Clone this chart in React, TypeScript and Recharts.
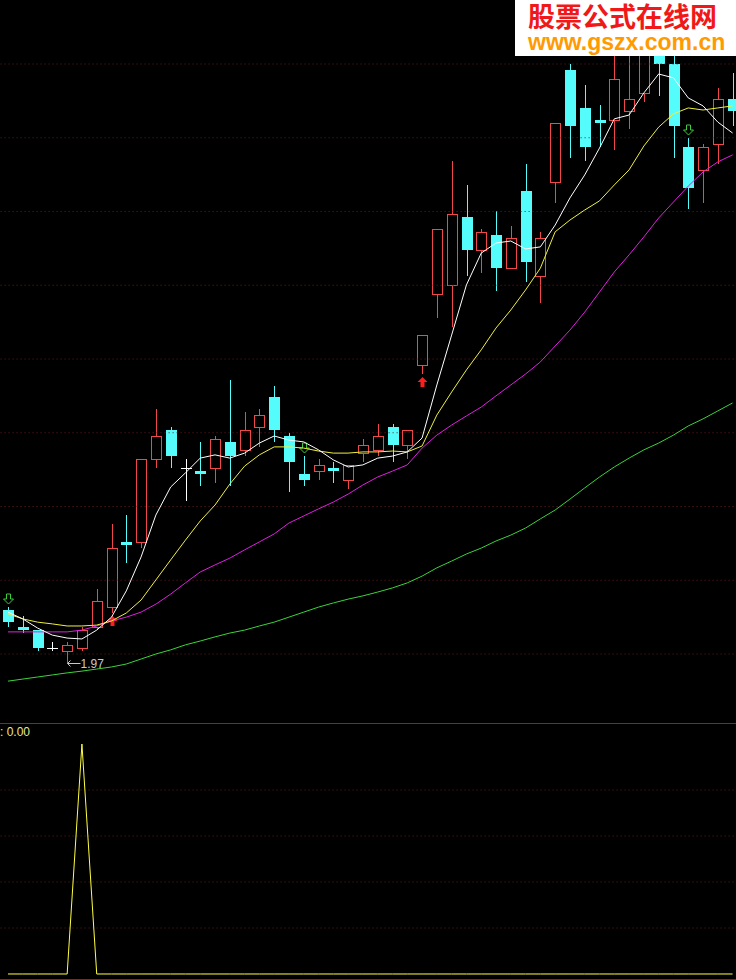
import { ComposedChart, Bar, Line, XAxis, YAxis, ReferenceLine } from 'recharts';

// daily prices
const opens = [2.15, 2.09, 2.08, 2.02, 2.01, 2.02, 2.09, 2.16, 2.38, 2.38, 2.66, 2.76, 2.63, 2.62, 2.63, 2.72, 2.69, 2.77, 2.87, 2.74, 2.61, 2.62, 2.63, 2.59, 2.68, 2.69, 2.77, 2.71, 2.98, 3.22, 3.25, 3.48, 3.37, 3.42, 3.31, 3.57, 3.28, 3.6, 3.98, 3.85, 3.81, 3.81, 3.84, 3.9, 4.05, 4.0, 3.72, 3.64, 3.73, 3.88];
const highs = [2.16, 2.13, 2.08, 2.04, 2.04, 2.09, 2.22, 2.44, 2.47, 2.66, 2.83, 2.77, 2.66, 2.72, 2.74, 2.93, 2.82, 2.83, 2.91, 2.75, 2.67, 2.66, 2.65, 2.64, 2.73, 2.78, 2.78, 2.76, 3.08, 3.44, 3.67, 3.59, 3.44, 3.5, 3.45, 3.66, 3.43, 3.8, 4.0, 3.93, 3.86, 4.08, 4.1, 4.12, 4.15, 4.04, 3.75, 3.73, 3.92, 3.97];
const lows = [2.09, 2.07, 2.01, 2.01, 1.97, 2.01, 2.08, 2.14, 2.31, 2.36, 2.63, 2.63, 2.52, 2.57, 2.58, 2.57, 2.67, 2.7, 2.72, 2.55, 2.57, 2.59, 2.58, 2.56, 2.65, 2.67, 2.65, 2.66, 2.95, 3.14, 3.11, 3.28, 3.29, 3.23, 3.31, 3.26, 3.19, 3.53, 3.68, 3.67, 3.72, 3.71, 3.78, 3.87, 3.89, 3.68, 3.51, 3.53, 3.66, 3.79];
const closes = [2.11, 2.08, 2.02, 2.02, 2.03, 2.08, 2.18, 2.36, 2.37, 2.66, 2.74, 2.67, 2.63, 2.61, 2.73, 2.67, 2.76, 2.81, 2.76, 2.65, 2.59, 2.64, 2.62, 2.64, 2.71, 2.74, 2.71, 2.76, 3.08, 3.44, 3.49, 3.37, 3.43, 3.31, 3.41, 3.33, 3.41, 3.8, 3.79, 3.72, 3.8, 3.95, 3.88, 4.06, 4.0, 3.79, 3.58, 3.72, 3.88, 3.84];

// moving averages
const ma5 = [2.142, 2.119, 2.088, 2.064, 2.054, 2.051, 2.081, 2.125, 2.214, 2.329, 2.471, 2.566, 2.614, 2.664, 2.675, 2.664, 2.681, 2.715, 2.739, 2.725, 2.719, 2.692, 2.658, 2.634, 2.641, 2.664, 2.671, 2.685, 2.732, 2.912, 3.081, 3.251, 3.359, 3.393, 3.4, 3.373, 3.38, 3.454, 3.546, 3.624, 3.715, 3.814, 3.827, 3.902, 3.966, 3.953, 3.885, 3.858, 3.803, 3.766];
const ma10 = [2.136, 2.119, 2.108, 2.102, 2.095, 2.095, 2.098, 2.112, 2.139, 2.183, 2.251, 2.319, 2.386, 2.451, 2.505, 2.576, 2.637, 2.675, 2.702, 2.702, 2.698, 2.688, 2.681, 2.681, 2.685, 2.685, 2.688, 2.685, 2.705, 2.81, 2.888, 2.963, 3.031, 3.105, 3.166, 3.234, 3.308, 3.431, 3.471, 3.505, 3.536, 3.59, 3.641, 3.722, 3.786, 3.831, 3.851, 3.844, 3.851, 3.858];
const ma20 = [2.075, 2.075, 2.075, 2.075, 2.075, 2.081, 2.095, 2.112, 2.125, 2.142, 2.169, 2.203, 2.241, 2.278, 2.302, 2.325, 2.353, 2.38, 2.407, 2.444, 2.468, 2.492, 2.515, 2.542, 2.573, 2.6, 2.62, 2.641, 2.698, 2.742, 2.776, 2.807, 2.837, 2.875, 2.912, 2.949, 2.99, 3.044, 3.098, 3.159, 3.227, 3.295, 3.353, 3.414, 3.478, 3.532, 3.586, 3.634, 3.668, 3.692];
const ma60 = [1.908, 1.915, 1.922, 1.929, 1.936, 1.942, 1.949, 1.956, 1.966, 1.983, 2.0, 2.014, 2.031, 2.044, 2.058, 2.071, 2.081, 2.095, 2.108, 2.125, 2.142, 2.159, 2.173, 2.186, 2.197, 2.21, 2.224, 2.241, 2.264, 2.292, 2.315, 2.339, 2.359, 2.383, 2.403, 2.427, 2.458, 2.488, 2.525, 2.563, 2.6, 2.634, 2.664, 2.692, 2.715, 2.742, 2.773, 2.797, 2.824, 2.851];

// indicator panel
const signal = [0, 0, 0, 0, 0, 1, 0, 0, 0, 0, 0, 0, 0, 0, 0, 0, 0, 0, 0, 0, 0, 0, 0, 0, 0, 0, 0, 0, 0, 0, 0, 0, 0, 0, 0, 0, 0, 0, 0, 0, 0, 0, 0, 0, 0, 0, 0, 0, 0, 0];

const upArrows = [7, 28];
const downArrows = [0, 20, 46];

const mainGrid = [2, 2.25, 2.5, 2.75, 3, 3.25, 3.5, 3.75, 4];
const subGrid = [0.2, 0.4, 0.6, 0.8];

const lowest = Math.min(...lows);
const lowestIdx = lows.indexOf(lowest);

const rows = opens.map((open, i) => ({
  i,
  open,
  high: highs[i],
  low: lows[i],
  close: closes[i],
  ma5: ma5[i],
  ma10: ma10[i],
  ma20: ma20[i],
  ma60: ma60[i],
  sig: signal[i],
  up: upArrows.includes(i),
  down: downArrows.includes(i),
  lowMark: i === lowestIdx,
}));

const RED = '#f04848';
const CYAN = '#54fcfc';
const GRID = '#6e1a1a';
const FRAME = '#9a1c1c';

function Candle(props: any) {
  const { x, y, width, height, payload } = props;
  if (!payload) return null;
  const { open, close, high, low } = payload;
  const top = Math.min(y, y + height);
  const h = Math.abs(height);
  const py = (v: number) => top + ((high - v) / (high - low)) * h;
  const cx = Math.round(x + width / 2) + 0.5;
  const yH = Math.round(py(high));
  const yL = Math.round(py(low));
  const yO = Math.round(py(open));
  const yC = Math.round(py(close));
  const parts: any[] = [];

  if (close > open) {
    parts.push(<line key="w1" x1={cx} x2={cx} y1={yH} y2={yC} stroke={RED} />);
    parts.push(<line key="w2" x1={cx} x2={cx} y1={yO} y2={yL} stroke={RED} />);
    parts.push(
      <rect key="b" x={cx - 5} y={yC + 0.5} width={10} height={Math.max(yO - yC, 1)} fill="#000" stroke={RED} />
    );
  } else if (close < open) {
    parts.push(<line key="w" x1={cx} x2={cx} y1={yH} y2={yL} stroke={CYAN} />);
    parts.push(<rect key="b" x={cx - 5.5} y={yO} width={11} height={Math.max(yC - yO, 2)} fill={CYAN} />);
  } else {
    parts.push(<line key="w" x1={cx} x2={cx} y1={yH} y2={yL} stroke="#fff" />);
    parts.push(<line key="b" x1={cx - 5.5} x2={cx + 5.5} y1={yO + 0.5} y2={yO + 0.5} stroke="#fff" />);
  }

  if (payload.down) {
    const t = yH - 2;
    parts.push(
      <path
        key="da"
        d={`M${cx - 2},${t - 11} L${cx + 2},${t - 11} L${cx + 2},${t - 6} L${cx + 5},${t - 6} L${cx},${t - 1} L${cx - 5},${t - 6} L${cx - 2},${t - 6} Z`}
        fill="none"
        stroke="#3ccc3c"
      />
    );
  }
  if (payload.up) {
    const t = yL + 3;
    parts.push(
      <path
        key="ua"
        d={`M${cx},${t} L${cx + 5},${t + 5} L${cx + 2},${t + 5} L${cx + 2},${t + 10} L${cx - 2},${t + 10} L${cx - 2},${t + 5} L${cx - 5},${t + 5} Z`}
        fill="#ff1e1e"
      />
    );
  }
  if (payload.lowMark) {
    const ly = yL + 0.5;
    parts.push(
      <g key="lm" stroke="#c8c8c8">
        <line x1={cx} x2={cx + 13} y1={ly} y2={ly} />
        <line x1={cx} x2={cx + 3} y1={ly} y2={ly - 3} />
        <line x1={cx} x2={cx + 3} y1={ly} y2={ly + 3} />
      </g>
    );
    parts.push(
      <text key="lt" x={cx + 13} y={ly + 4.5} fill="#c8c8c8" fontSize={12} fontFamily="Liberation Sans, Arial, sans-serif">
        {low.toFixed(2)}
      </text>
    );
  }
  return <g>{parts}</g>;
}

export default function App() {
  return (
    <div
      style={{
        position: 'fixed',
        left: 0,
        top: 0,
        width: 736,
        height: 980,
        background: '#000',
        overflow: 'hidden',
      }}
    >
      <div style={{ position: 'absolute', left: 0, top: 0 }}>
        <ComposedChart width={740} height={722} data={rows} margin={{ top: 0, right: 0, bottom: 0, left: 0.6 }}>
          <XAxis dataKey="i" hide scale="band" />
          <YAxis hide domain={[1.7695, 4.2169]} allowDataOverflow />
          {mainGrid.map((v) => (
            <ReferenceLine key={v} y={v} stroke={GRID} strokeDasharray="1 3" />
          ))}
          <Bar dataKey={(d: any) => [d.low, d.high]} shape={<Candle />} isAnimationActive={false} />
          <Line dataKey="ma60" stroke="#3cd23c" dot={false} isAnimationActive={false} />
          <Line dataKey="ma20" stroke="#e020e0" dot={false} isAnimationActive={false} />
          <Line dataKey="ma10" stroke="#f0f040" dot={false} isAnimationActive={false} />
          <Line dataKey="ma5" stroke="#ffffff" dot={false} isAnimationActive={false} />
        </ComposedChart>
      </div>

      <div style={{ position: 'absolute', left: 0, top: 723, width: 736, height: 1, background: FRAME }} />

      <div style={{ position: 'absolute', left: 0, top: 722 }}>
        <ComposedChart width={740} height={258} data={rows} margin={{ top: 0, right: 0, bottom: 0, left: 0.6 }}>
          <XAxis dataKey="i" hide scale="band" />
          <YAxis hide domain={[-0.0261, 1.0957]} allowDataOverflow />
          {subGrid.map((v) => (
            <ReferenceLine key={v} y={v} stroke={GRID} strokeDasharray="1 3" />
          ))}
          <Line dataKey="sig" stroke="#ffff40" dot={false} isAnimationActive={false} />
        </ComposedChart>
      </div>

      <div style={{ position: 'absolute', left: 0, top: 979, width: 736, height: 1, background: FRAME }} />

      <div
        style={{
          position: 'absolute',
          left: 0,
          top: 725,
          color: '#e8e890',
          fontSize: 12,
          fontFamily: 'Liberation Sans, Arial, sans-serif',
          whiteSpace: 'pre',
        }}
      >
        {': 0.00'}
      </div>

      <div
        style={{
          position: 'absolute',
          left: 515,
          top: 0,
          width: 221,
          height: 56,
          background: '#fff',
        }}
      >
        <div
          style={{
            position: 'absolute',
            left: 13,
            top: 2,
            color: '#f01818',
            fontSize: 27,
            lineHeight: '28px',
            fontWeight: 'bold',
            fontFamily: '"Noto Sans CJK SC", sans-serif',
            whiteSpace: 'nowrap',
          }}
        >
          股票公式在线网
        </div>
        <div
          style={{
            position: 'absolute',
            left: 13,
            top: 31,
            color: '#ff9a00',
            fontSize: 23,
            lineHeight: '23px',
            fontWeight: 'bold',
            fontFamily: '"Liberation Sans", Arial, sans-serif',
            whiteSpace: 'nowrap',
          }}
        >
          www.gszx.com.cn
        </div>
      </div>
    </div>
  );
}
